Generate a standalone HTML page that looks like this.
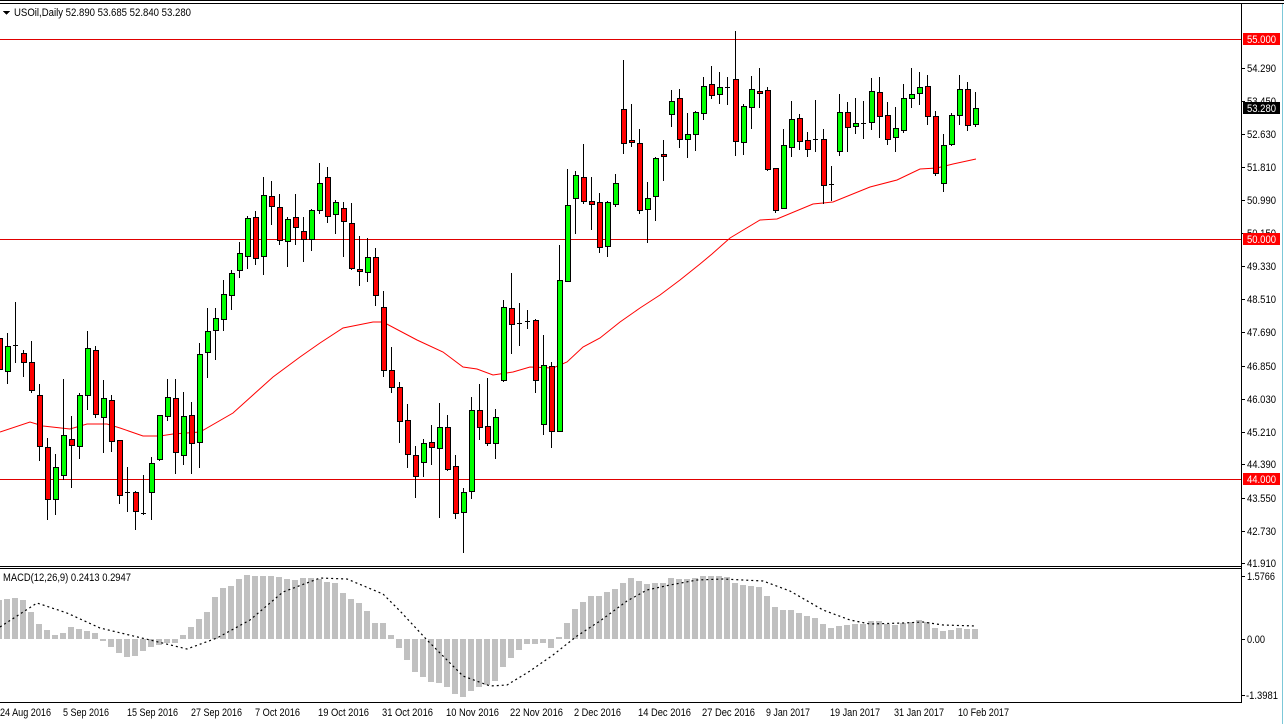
<!DOCTYPE html>
<html><head><meta charset="utf-8"><style>
html,body{margin:0;padding:0;background:#fff;}
svg{display:block;}
text{font-family:"Liberation Sans",sans-serif;font-size:11px;fill:#000;}
</style></head><body>
<svg id="s" width="1284" height="724" viewBox="0 0 1284 724" xmlns="http://www.w3.org/2000/svg" shape-rendering="crispEdges">
<rect x="0" y="0" width="1284" height="724" fill="#fff"/>
<line x1="0" y1="0.5" x2="1284" y2="0.5" stroke="#000"/>
<line x1="0" y1="3.5" x2="1284" y2="3.5" stroke="#000"/>
<line x1="1241.5" y1="4" x2="1241.5" y2="703" stroke="#000"/>
<line x1="0" y1="566.5" x2="1241" y2="566.5" stroke="#000"/>
<line x1="0" y1="568.5" x2="1241" y2="568.5" stroke="#000"/>
<line x1="0" y1="702.5" x2="1241" y2="702.5" stroke="#000"/>
<line x1="1282.5" y1="4" x2="1282.5" y2="724" stroke="#7cc8d8"/>
<g id="hist"></g>
<g id="lvl">
<line x1="0" y1="39.5" x2="1241" y2="39.5" stroke="#e00000"/>
<line x1="0" y1="239.5" x2="1241" y2="239.5" stroke="#e00000"/>
<line x1="0" y1="479.5" x2="1241" y2="479.5" stroke="#e00000"/>
</g>
<g id="ma"></g>
<g id="cd"></g>
<g id="ticks"></g>
<path d="M3 11 L10 11 L6.5 15 Z" fill="#000"/>
<text x="14" y="16" textLength="177" lengthAdjust="spacingAndGlyphs">USOil,Daily  52.890 53.685 52.840 53.280</text>
<text x="3" y="581" textLength="128" lengthAdjust="spacingAndGlyphs">MACD(12,26,9) 0.2413 0.2947</text>
<g id="pl">
<text x="1247" y="72" textLength="29" lengthAdjust="spacingAndGlyphs">54.290</text>
<text x="1247" y="105" textLength="29" lengthAdjust="spacingAndGlyphs">53.450</text>
<text x="1247" y="138" textLength="29" lengthAdjust="spacingAndGlyphs">52.630</text>
<text x="1247" y="171" textLength="29" lengthAdjust="spacingAndGlyphs">51.810</text>
<text x="1247" y="204" textLength="29" lengthAdjust="spacingAndGlyphs">50.990</text>
<text x="1247" y="237" textLength="29" lengthAdjust="spacingAndGlyphs">50.150</text>
<text x="1247" y="270" textLength="29" lengthAdjust="spacingAndGlyphs">49.330</text>
<text x="1247" y="303" textLength="29" lengthAdjust="spacingAndGlyphs">48.510</text>
<text x="1247" y="336" textLength="29" lengthAdjust="spacingAndGlyphs">47.690</text>
<text x="1247" y="370" textLength="29" lengthAdjust="spacingAndGlyphs">46.850</text>
<text x="1247" y="403" textLength="29" lengthAdjust="spacingAndGlyphs">46.030</text>
<text x="1247" y="436" textLength="29" lengthAdjust="spacingAndGlyphs">45.210</text>
<text x="1247" y="468" textLength="29" lengthAdjust="spacingAndGlyphs">44.390</text>
<text x="1247" y="502" textLength="29" lengthAdjust="spacingAndGlyphs">43.550</text>
<text x="1247" y="535" textLength="29" lengthAdjust="spacingAndGlyphs">42.730</text>
<text x="1247" y="567" textLength="29" lengthAdjust="spacingAndGlyphs">41.910</text>
<text x="1247" y="580" textLength="28" lengthAdjust="spacingAndGlyphs">1.5766</text>
<text x="1247" y="643" textLength="18" lengthAdjust="spacingAndGlyphs">0.00</text>
<text x="1246" y="699" textLength="32" lengthAdjust="spacingAndGlyphs">-1.3981</text>
</g>
<rect x="1243" y="33" width="37" height="12" fill="#ff0000"/>
<text x="1247" y="43" style="fill:#fff" textLength="29" lengthAdjust="spacingAndGlyphs">55.000</text>
<rect x="1243" y="102" width="37" height="12" fill="#000"/>
<text x="1247" y="112" style="fill:#fff" textLength="29" lengthAdjust="spacingAndGlyphs">53.280</text>
<rect x="1243" y="233" width="37" height="12" fill="#ff0000"/>
<text x="1247" y="243" style="fill:#fff" textLength="29" lengthAdjust="spacingAndGlyphs">50.000</text>
<rect x="1243" y="473" width="37" height="12" fill="#ff0000"/>
<text x="1247" y="483" style="fill:#fff" textLength="29" lengthAdjust="spacingAndGlyphs">44.000</text>
<g id="dl">
<text x="0" y="716" textLength="51" lengthAdjust="spacingAndGlyphs">24 Aug 2016</text>
<text x="63" y="716" textLength="46" lengthAdjust="spacingAndGlyphs">5 Sep 2016</text>
<text x="127" y="716" textLength="51" lengthAdjust="spacingAndGlyphs">15 Sep 2016</text>
<text x="191" y="716" textLength="51" lengthAdjust="spacingAndGlyphs">27 Sep 2016</text>
<text x="255" y="716" textLength="45" lengthAdjust="spacingAndGlyphs">7 Oct 2016</text>
<text x="318" y="716" textLength="51" lengthAdjust="spacingAndGlyphs">19 Oct 2016</text>
<text x="382" y="716" textLength="51" lengthAdjust="spacingAndGlyphs">31 Oct 2016</text>
<text x="446" y="716" textLength="53" lengthAdjust="spacingAndGlyphs">10 Nov 2016</text>
<text x="510" y="716" textLength="53" lengthAdjust="spacingAndGlyphs">22 Nov 2016</text>
<text x="574" y="716" textLength="47" lengthAdjust="spacingAndGlyphs">2 Dec 2016</text>
<text x="638" y="716" textLength="53" lengthAdjust="spacingAndGlyphs">14 Dec 2016</text>
<text x="702" y="716" textLength="53" lengthAdjust="spacingAndGlyphs">27 Dec 2016</text>
<text x="766" y="716" textLength="44" lengthAdjust="spacingAndGlyphs">9 Jan 2017</text>
<text x="830" y="716" textLength="50" lengthAdjust="spacingAndGlyphs">19 Jan 2017</text>
<text x="894" y="716" textLength="50" lengthAdjust="spacingAndGlyphs">31 Jan 2017</text>
<text x="958" y="716" textLength="51" lengthAdjust="spacingAndGlyphs">10 Feb 2017</text>
</g>
</svg>
<script>
var NS="http://www.w3.org/2000/svg";
function el(p,t,a){var e=document.createElementNS(NS,t);for(var k in a)e.setAttribute(k,a[k]);document.getElementById(p).appendChild(e);return e;}
var C=[
[338,369,335,372,'r'],[346,371,333,383,'g'],[345,345,302,362,'d'],[353,362,350,376,'r'],[362,390,341,392,'r'],[395,446,384,460,'r'],[447,499,438,519,'r'],[467,499,454,514,'g'],[435,475,379,479,'g'],[439,445,416,487,'r'],
[395,446,393,458,'g'],[348,395,331,409,'g'],[350,414,346,417,'r'],[398,417,380,452,'g'],[400,441,395,451,'r'],[440,495,440,503,'r'],[492,492,467,511,'d'],[492,511,491,529,'r'],[513,513,475,514,'d'],[463,492,457,519,'g'],
[415,459,415,460,'g'],[397,416,379,420,'g'],[398,452,379,473,'r'],[416,455,392,464,'g'],[415,443,402,473,'r'],[354,442,343,467,'g'],[331,352,308,377,'g'],[318,330,308,359,'g'],[294,319,280,330,'g'],[273,295,270,309,'g'],
[253,270,242,277,'g'],[218,256,216,268,'g'],[217,258,211,264,'r'],[195,256,177,274,'g'],[196,206,181,224,'r'],[207,240,194,244,'r'],[219,241,217,266,'g'],[217,227,194,244,'r'],[231,239,217,261,'r'],[210,239,209,250,'g'],
[183,210,163,213,'g'],[177,216,167,222,'r'],[202,214,200,233,'g'],[208,221,202,256,'r'],[223,268,203,269,'r'],[269,271,236,285,'r'],[257,272,238,281,'g'],[257,295,248,305,'r'],[307,370,291,376,'r'],[370,387,347,392,'r'],
[387,421,382,442,'r'],[420,454,404,467,'r'],[455,476,446,497,'r'],[443,462,439,476,'g'],[442,447,425,464,'r'],[427,448,403,517,'g'],[427,469,415,470,'r'],[466,513,455,518,'r'],[492,512,488,552,'g'],[410,491,397,498,'g'],
[410,427,384,439,'r'],[426,443,378,445,'r'],[417,443,409,458,'g'],[307,380,300,381,'g'],[308,324,273,353,'r'],[323,323,303,345,'d'],[321,323,310,328,'d'],[320,380,319,392,'r'],[365,424,335,434,'g'],[366,431,362,447,'r'],
[280,431,245,431,'g'],[205,281,169,281,'g'],[175,198,171,233,'g'],[177,201,144,203,'r'],[201,204,177,229,'r'],[202,247,193,252,'r'],[202,246,201,256,'g'],[183,204,174,206,'g'],[109,143,60,153,'r'],[140,142,104,146,'r'],
[143,210,129,213,'r'],[198,209,182,242,'g'],[158,196,157,220,'g'],[154,156,140,180,'r'],[101,114,90,126,'g'],[98,139,89,147,'r'],[134,139,113,157,'g'],[112,134,111,150,'g'],[86,113,77,119,'g'],[84,95,66,98,'r'],
[87,94,72,103,'g'],[87,87,77,104,'d'],[79,141,31,155,'r'],[106,142,104,154,'g'],[89,107,76,128,'g'],[91,93,68,107,'r'],[90,169,87,170,'r'],[168,210,168,212,'r'],[145,208,129,208,'g'],[119,147,101,156,'g'],
[118,141,114,149,'r'],[140,149,132,156,'r'],[139,139,100,151,'d'],[139,185,129,203,'r'],[184,184,166,200,'d'],[112,151,94,155,'g'],[112,127,102,151,'r'],[123,126,98,133,'g'],[123,123,101,138,'d'],[91,122,78,129,'g'],
[92,116,77,137,'r'],[115,139,102,144,'r'],[128,137,107,151,'g'],[98,130,84,132,'g'],[94,98,68,107,'g'],[87,93,72,104,'g'],[86,116,75,124,'r'],[116,173,111,175,'r'],[145,183,134,191,'g'],[115,144,113,145,'g'],
[89,115,75,124,'g'],[89,125,82,130,'r'],[108,124,92,126,'g']];
var H=[600,599,598,600,612,624,630,635,633,627,629,631,633,641,647,653,657,656,651,647,645,643,643,635,627,619,612,597,588,586,579,575,576,576,576,577,579,580,578,578,579,582,583,593,599,603,611,623,
623,635,648,660,672,677,682,683,687,694,697,691,687,685,681,667,658,650,644,644,643,648,637,623,609,602,596,596,592,589,583,578,581,584,583,583,578,579,579,578,576,576,576,577,583,585,586,587,596,607,610,610,613,616,618,624,628,626,625,624,624,621,621,624,625,623,622,620,622,628,631,630,628,629,629];
for(var i=0;i<H.length;i++){var x=-1+8*i,h=H[i];var y0=Math.min(h,639),y1=Math.max(h,639);if(y1-y0<1)y1=y0+1;el('hist','rect',{x:x-3,y:y0,width:6,height:y1-y0,fill:'#c0c0c0'});}
var sig=[[0,627],[37,603],[67,613],[100,628],[150,640],[187,649],[217,638],[250,620],[283,592],[320,578],[347,579],[383,594],[400,611],[427,640],[463,676],[490,686],[507,685],[530,671],[553,655],[577,636],[600,621],[627,601],[647,590],[670,585],[697,580],[723,579],[763,581],[790,591],[823,610],[850,620],[870,624],[903,623],[923,622],[943,625],[976,626]];
el('hist','polyline',{points:sig.map(function(p){return p.join(',')}).join(' '),fill:'none',stroke:'#000','stroke-dasharray':'2,3','stroke-width':1.2,'shape-rendering':'auto'});
var ma=[[0,432],[30,422],[43,426],[70,429],[87,424],[107,424],[120,428],[143,436],[160,436],[173,434],[200,432],[233,413],[273,377],[300,357],[320,343],[343,328],[373,322],[383,322],[417,340],[443,352],[463,367],[477,369],[493,375],[513,372],[530,367],[553,368],[567,362],[583,347],[600,338],[620,322],[640,308],[660,295],[680,280],[700,264],[712,254],[730,238],[760,220],[777,219],[813,204],[833,202],[870,187],[897,180],[920,169],[937,168],[953,164],[976,159]];
el('ma','polyline',{points:ma.map(function(p){return p.join(',')}).join(' '),fill:'none',stroke:'#ff0000','stroke-width':1,'shape-rendering':'auto'});
for(var i=0;i<C.length;i++){var c=C[i],x=-1+8*i;
el('cd','line',{x1:x+0.5,y1:c[2],x2:x+0.5,y2:c[3]+1,stroke:'#000'});
if(c[4]=='d'){el('cd','line',{x1:x-2,y1:c[0]+0.5,x2:x+3,y2:c[0]+0.5,stroke:'#000'});}
else{el('cd','rect',{x:x-2+0.5,y:c[0]+0.5,width:5,height:Math.max(1,c[1]-c[0]),fill:c[4]=='g'?'#00ff00':'#ff0000',stroke:'#000'});}}
var ty=[68,101,134,167,200,233,266,299,332,366,399,432,464,498,531,563,576,639,695];
ty.forEach(function(y){el('ticks','line',{x1:1241,y1:y+0.5,x2:1245,y2:y+0.5,stroke:'#000'});});
</script>
</body></html>
